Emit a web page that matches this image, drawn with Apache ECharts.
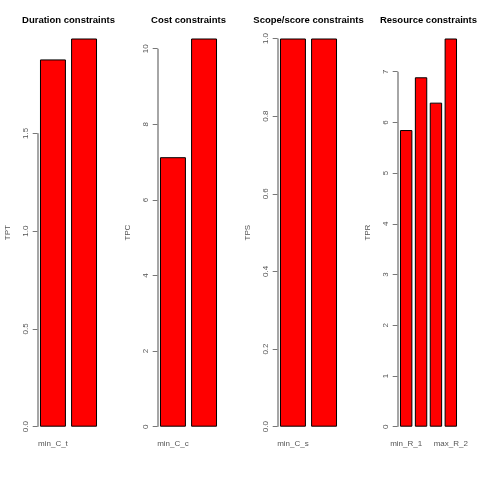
<!DOCTYPE html>
<html>
<head>
<meta charset="utf-8">
<script src="https://cdn.jsdelivr.net/npm/echarts@6/dist/echarts.min.js"></script>
<style>html,body{margin:0;padding:0;background:#fff}#c{width:480px;height:480px}</style>
</head>
<body>
<div id="c"></div>
<script>
// ---- data ----
const titles = ["Duration constraints", "Cost constraints", "Scope/score constraints", "Resource constraints"];
const yNames = ["TPT", "TPC", "TPS", "TPR"];

const durationCats = ["min_C_t", "max_C_t"];
const durationVals = [1.878, 1.985];
const durationTicks = [0, 0.5, 1.0, 1.5];
const durationShown = [0];

const costCats = ["min_C_c", "max_C_c"];
const costVals = [7.13, 10.27];
const costTicks = [0, 2, 4, 6, 8, 10];
const costShown = [0];

const scopeCats = ["min_C_s", "max_C_s"];
const scopeVals = [1.0, 1.0];
const scopeTicks = [0, 0.2, 0.4, 0.6, 0.8, 1.0];
const scopeShown = [0];

const resourceCats = ["min_R_1", "max_R_1", "min_R_2", "max_R_2"];
const resourceVals = [5.85, 6.89, 6.39, 7.655];
const resourceTicks = [0, 1, 2, 3, 4, 5, 6, 7];
const resourceShown = [0, 3];

// ---- build ----
const panels = [
  {cats: durationCats, vals: durationVals, ticks: durationTicks, shown: durationShown},
  {cats: costCats, vals: costVals, ticks: costTicks, shown: costShown},
  {cats: scopeCats, vals: scopeVals, ticks: scopeTicks, shown: scopeShown},
  {cats: resourceCats, vals: resourceVals, ticks: resourceTicks, shown: resourceShown}
];

const FONT = "'Liberation Sans', Arial, sans-serif";
const W = 480, H = 480, panelW = 120;
const plotLeft0 = 37.7, plotW = 61.6, plotTop = 38.5, plotBottom = 53.3;
const SPACE = 0.2, BARW = 1;

const option = {
  animation: false,
  backgroundColor: '#fff',
  title: [], grid: [], xAxis: [], yAxis: [], series: []
};

panels.forEach((p, k) => {
  const n = p.cats.length;
  const centers = p.cats.map((_, i) => SPACE + BARW / 2 + i * (BARW + SPACE));
  const lo = SPACE, hi = n * (BARW + SPACE);
  const ext = 0.04 * (hi - lo);
  const xmin = lo - ext, xmax = hi + ext;
  const yMax = Math.max(...p.vals);
  const dec = p.ticks.some(t => !Number.isInteger(t)) ? 1 : 0;
  const left = plotLeft0 + panelW * k;

  option.title.push({
    text: titles[k],
    left: left + plotW / 2, top: 20, padding: 0,
    textAlign: 'center', textVerticalAlign: 'middle',
    textStyle: {fontFamily: FONT, fontWeight: 'bold', fontSize: 9.5, color: '#000'}
  });
  option.grid.push({left: left, width: plotW, top: plotTop, bottom: plotBottom, containLabel: false, outerBoundsMode: 'none'});
  option.xAxis.push({
    gridIndex: k, type: 'value', min: xmin, max: xmax,
    axisLine: {show: false}, axisTick: {show: false}, splitLine: {show: false},
    axisLabel: {
      show: true, margin: 13, fontSize: 8, fontFamily: FONT, color: '#555',
      customValues: p.shown.map(i => centers[i]),
      formatter: v => {
        const i = centers.findIndex(c => Math.abs(c - v) < 1e-6);
        return i >= 0 ? p.cats[i] : '';
      }
    }
  });
  option.yAxis.push({
    gridIndex: k, type: 'value', min: 0, max: yMax,
    name: yNames[k], nameLocation: 'middle', nameGap: 26, nameRotate: 90,
    nameTextStyle: {fontFamily: FONT, fontSize: 8, color: '#555'},
    axisLine: {show: false},
    axisTick: {show: true, length: 5, lineStyle: {color: '#777', width: 1}, customValues: p.ticks},
    splitLine: {show: false},
    axisLabel: {show: true, rotate: 90, margin: 8, fontSize: 8, fontFamily: FONT, color: '#555',
      customValues: p.ticks, formatter: v => Number(v).toFixed(dec)}
  });
  option.series.push({
    type: 'bar', xAxisIndex: k, yAxisIndex: k,
    data: p.vals.map((v, i) => [centers[i], v]),
    barWidth: (BARW / (BARW + SPACE) * 100) + '%',
    itemStyle: {color: '#ff0000', borderColor: '#000', borderWidth: 1},
    silent: true,
    markLine: {
      silent: true, symbol: ['none', 'none'], label: {show: false},
      lineStyle: {color: '#888', width: 1.5, type: 'solid'},
      emphasis: {disabled: true},
      data: [[{coord: [xmin, p.ticks[0]]}, {coord: [xmin, p.ticks[p.ticks.length - 1]]}]]
    }
  });
});

const chart = echarts.init(document.getElementById('c'), null, {renderer: 'canvas', width: W, height: H});
chart.setOption(option);
</script>
</body>
</html>
